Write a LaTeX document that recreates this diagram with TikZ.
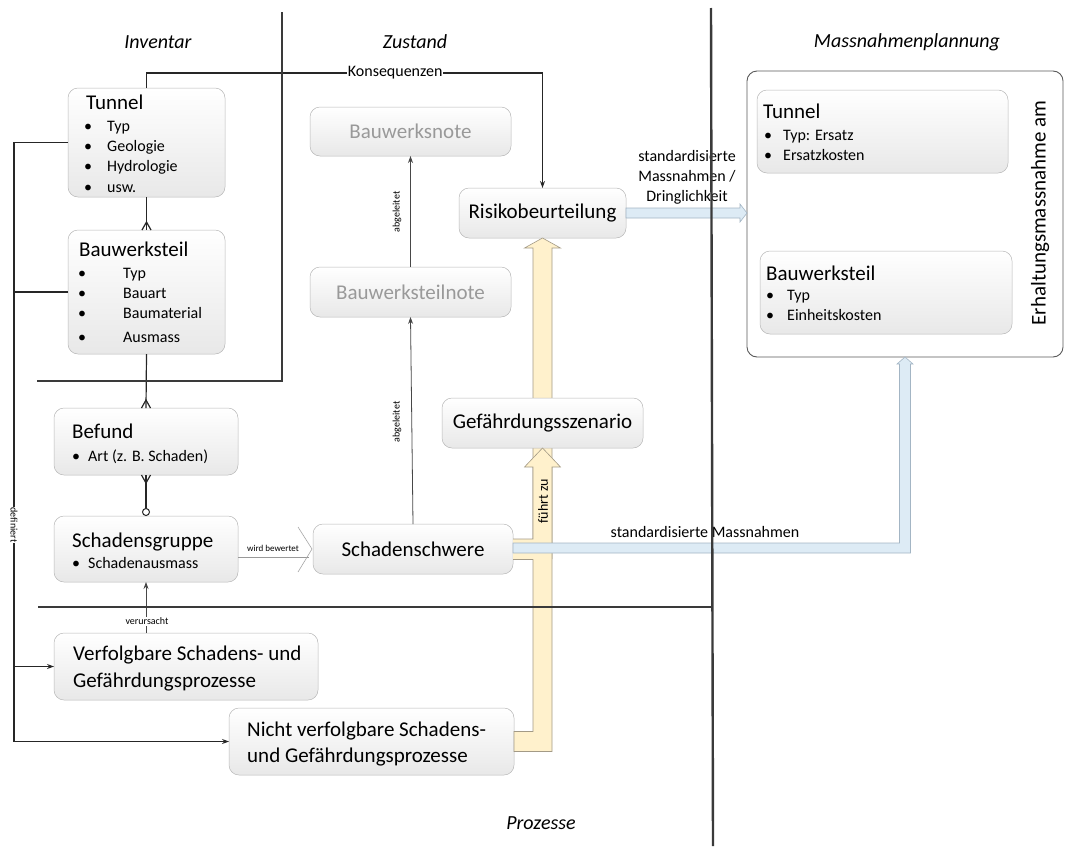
\documentclass[tikz,border=0pt]{standalone}
\usepackage{fontspec}
\setmainfont{Carlito}
\usetikzlibrary{calc,arrows.meta}
\definecolor{divc}{HTML}{3A3A3A}
\definecolor{conc}{HTML}{262626}
\definecolor{yelf}{HTML}{FFF1CC}
\definecolor{yeld}{HTML}{A39A86}
\definecolor{bluf}{HTML}{DDEBF5}
\definecolor{blud}{HTML}{A3B5C4}
\newcommand\szA{\fontsize{21}{26}\selectfont}
\newcommand\szB{\fontsize{16}{20}\selectfont}
\newcommand\szC{\fontsize{10}{12}\selectfont}
\newcommand\szH{\fontsize{20}{24}\selectfont\itshape}
\begin{document}
\begin{tikzpicture}[x=1pt,y=-1pt,
  box/.style 2 args={draw=black!28, line width=0.5pt, rounded corners=10pt,
    top color=white, bottom color=black!9, minimum width=#1pt, minimum height=#2pt,
    anchor=north west, inner sep=0pt, outer sep=0pt},
  bigbox/.style={draw=black!65, line width=0.9pt, rounded corners=10pt, fill=white,
    minimum width=316pt, minimum height=286pt, anchor=north west, inner sep=0pt, outer sep=0pt},
  tx/.style={inner sep=0pt, anchor=base west},
  bl/.style={inner sep=0pt, anchor=base},
  hd/.style={inner sep=0pt, font=\szH},
  lbl/.style={inner sep=1pt, font=\szC},
  con/.style={draw=conc, line width=1.2pt},
  thincon/.style={draw=conc!85, line width=0.8pt},
  tip/.style={-{Stealth[length=7pt,width=5pt]}},
  div/.style={draw=divc, line width=2.4pt},
  yel/.style={fill=yelf, draw=yeld, line width=0.6pt},
  blu/.style={fill=bluf, draw=blud, line width=0.6pt},
]
\useasboundingbox (0,0) rectangle (1065,846);

% headers
\node[hd] (hInv) at (158,42) {Inventar};
\node[hd] (hZus) at (415,42) {Zustand};
\node[hd] (hMas) at (907,42) {Massnahmenplannung};
\node[hd] (hPro) at (541,823) {Prozesse};

% boxes
\node[box={157}{109}] (tunnelL) at (68,88) {};
\node[box={157}{124}] (bwtL) at (68,230) {};
\node[box={184}{67}] (befund) at (54,408) {};
\node[box={184}{66}] (sgruppe) at (54,516) {};
\node[box={264}{67}] (verf) at (54,633) {};
\node[box={285}{67}] (nicht) at (229,708) {};
\node[box={201}{49}] (bnote) at (310,107) {\szA\color{black!40}Bauwerksnote};
\node[box={201}{50}] (btnote) at (310,267) {\szA\color{black!40}Bauwerksteilnote};
\node[box={200}{50}] (sschwere) at (313,524) {\szA Schadenschwere};
\node[box={167}{50}] (risiko) at (459,188) {\szA Risikobeurteilung};
\node[bigbox] (big) at (747,71) {};
\node[box={251}{83}] (tunnelR) at (757,90) {};
\node[box={252}{83}] (bwtR) at (760,251) {};
\node[rotate=90, inner sep=0pt] (erh) at (1040,213) {\szA Erhaltungsmassnahme am};

% texts in left boxes
\node[tx] (tLt) at (86,109) {\szA Tunnel};
\node[bl] (tLb1) at (88,131) {\szB\textbullet}; \node[tx] (tL1) at (107,131) {\szB Typ};
\node[bl] (tLb2) at (88,151) {\szB\textbullet}; \node[tx] (tL2) at (107,151) {\szB Geologie};
\node[bl] (tLb3) at (88,171) {\szB\textbullet}; \node[tx] (tL3) at (107,171) {\szB Hydrologie};
\node[bl] (tLb4) at (88,192) {\szB\textbullet}; \node[tx] (tL4) at (107,192) {\szB usw.};

\node[tx] (bLt) at (79,256) {\szA Bauwerksteil};
\node[bl] (bLb1) at (82,278) {\szB\textbullet}; \node[tx] (bL1) at (123,278) {\szB Typ};
\node[bl] (bLb2) at (82,298) {\szB\textbullet}; \node[tx] (bL2) at (123,298) {\szB Bauart};
\node[bl] (bLb3) at (82,318) {\szB\textbullet}; \node[tx] (bL3) at (123,318) {\szB Baumaterial};
\node[bl] (bLb4) at (82,342) {\szB\textbullet}; \node[tx] (bL4) at (123,342) {\szB Ausmass};

\node[tx] (bft) at (72,438) {\szA Befund};
\node[bl] (bfb1) at (76,461) {\szB\textbullet}; \node[tx] (bf1) at (88,461) {\szB Art (z. B. Schaden)};

\node[tx] (sgt) at (72,547) {\szA Schadensgruppe};
\node[bl] (sgb1) at (76,568) {\szB\textbullet}; \node[tx] (sg1) at (88,568) {\szB Schadenausmass};

\node[tx] (vf1) at (73,660) {\szA Verfolgbare Schadens- und};
\node[tx] (vf2) at (73,687) {\szA Gefährdungsprozesse};
\node[tx] (nv1) at (247,736) {\szA Nicht verfolgbare Schadens-};
\node[tx] (nv2) at (247,762) {\szA und Gefährdungsprozesse};

% texts in right boxes
\node[tx] (tRt) at (763,118) {\szA Tunnel};
\node[bl] (tRb1) at (768,140) {\szB\textbullet}; \node[tx] (tR1) at (783,140) {\szB Typ: Ersatz};
\node[bl] (tRb2) at (768,160) {\szB\textbullet}; \node[tx] (tR2) at (783,160) {\szB Ersatzkosten};
\node[tx] (bRt) at (766,280) {\szA Bauwerksteil};
\node[bl] (bRb1) at (770,300) {\szB\textbullet}; \node[tx] (bR1) at (787,300) {\szB Typ};
\node[bl] (bRb2) at (770,320) {\szB\textbullet}; \node[tx] (bR2) at (787,320) {\szB Einheitskosten};

% yellow arrow A: Nicht verfolgbare -> Risikobeurteilung
\path[yel] ($(nicht.east)+(0,-10)$) -- ($(risiko.south |- nicht.east)+(-9.5,-10)$)
  -- ($(risiko.south)+(-9.5,10)$) -- ($(risiko.south)+(-18,10)$) -- (risiko.south)
  -- ($(risiko.south)+(18,10)$) -- ($(risiko.south)+(9.5,10)$)
  -- ($(risiko.south |- nicht.east)+(9.5,10)$) -- ($(nicht.east)+(0,10)$) -- cycle;

\node[box={201}{50}] (gefahr) at (442,398) {\szA Gefährdungsszenario};

% yellow arrow B: Schadenschwere -> Gefaehrdungsszenario
\path[fill=yelf] ($(sschwere.east)+(0,-10)$) -- ($(gefahr.south |- sschwere.east)+(-9.5,-10)$)
  -- ($(gefahr.south)+(-9.5,19)$) -- ($(gefahr.south)+(-18,19)$) -- (gefahr.south)
  -- ($(gefahr.south)+(18,19)$) -- ($(gefahr.south)+(9.5,19)$)
  -- ($(gefahr.south |- sschwere.east)+(9.5,10)$) -- ($(sschwere.east)+(0,10)$) -- cycle;
\draw[draw=yeld, line width=0.6pt] ($(gefahr.south |- sschwere.east)+(9.5,10)$)
  -- ($(gefahr.south)+(9.5,19)$) -- ($(gefahr.south)+(18,19)$) -- (gefahr.south)
  -- ($(gefahr.south)+(-18,19)$) -- ($(gefahr.south)+(-9.5,19)$)
  -- ($(gefahr.south |- sschwere.east)+(-9.5,-10)$) -- ($(sschwere.east)+(0,-10)$);
\draw[draw=yeld, line width=0.6pt] ($(sschwere.east)+(0,10)$) -- ($(gefahr.south |- sschwere.east)+(-9.5,10)$);
\node[rotate=90, inner sep=0pt] (fz) at (543,501) {\fontsize{14}{16}\selectfont führt zu};

% blue arrows
\path[blu] ($(risiko.east)+(0,-5)$) -- ($(big.west |- risiko.east)+(-7,-5)$)
  -- ($(big.west |- risiko.east)+(-7,-9)$) -- (big.west |- risiko.east)
  -- ($(big.west |- risiko.east)+(-7,9)$) -- ($(big.west |- risiko.east)+(-7,5)$)
  -- ($(risiko.east)+(0,5)$) -- cycle;
\path[blu] ($(sschwere.east)+(0,-6)$) -- ($(big.south |- sschwere.east)+(-5.5,-6)$)
  -- ($(big.south)+(-5.5,7)$) -- ($(big.south)+(-8,7)$) -- (big.south)
  -- ($(big.south)+(8,7)$) -- ($(big.south)+(5.5,7)$)
  -- ($(big.south |- sschwere.east)+(5.5,4)$) -- ($(sschwere.east)+(0,4)$) -- cycle;
\node[align=center, inner sep=0pt, font=\szB] (lstd1) at (687,177) {standardisierte\\Massnahmen /\\Dringlichkeit};
\node[inner sep=0pt, font=\szB] (lstd2) at (705,532) {standardisierte Massnahmen};

% ER connectors
\draw[con] (tunnelL.south) -- (bwtL.north);
\draw[con] ($(bwtL.north)+(-4.5,0)$) -- ($(bwtL.north)+(0,-8)$) -- ($(bwtL.north)+(4.5,0)$);
\draw[con] (bwtL.south) -- (befund.north);
\draw[con] ($(befund.north)+(-4.5,0)$) -- ($(befund.north)+(0,-8)$) -- ($(befund.north)+(4.5,0)$);
\draw[con] (befund.south) -- (sgruppe.north);
\draw[con] ($(befund.south)+(-4.5,0)$) -- ($(befund.south)+(0,8)$) -- ($(befund.south)+(4.5,0)$);
\draw[con, fill=white, line width=1pt] ($(sgruppe.north)+(0,-4)$) circle (3.5);

% Konsequenzen
\draw[con, tip] (tunnelL.north) |- node[pos=0.814, lbl, fill=white, font=\szB, inner sep=0.5pt] (kons) {Konsequenzen}
  ($(risiko.north)+(0,-115)$) -- (risiko.north);

% abgeleitet
\draw[thincon, tip] (sschwere.north) -- (btnote.south);
\draw[thincon, tip] (btnote.north) -- (bnote.south);
\node[lbl, rotate=90] (abg1) at (397,422) {abgeleitet};
\node[lbl, rotate=90] (abg2) at (397,212) {abgeleitet};

% verursacht
\draw[thincon, tip] (sgruppe.south |- verf.north) -- (sgruppe.south);
\node[lbl, fill=white] (veru) at (147,621) {verursacht};

% wird bewertet
\draw[draw=black!40, line width=0.6pt] ($(sgruppe.east)+(0,8)$) -- ($(sschwere.west)+(-4,8)$);
\draw[draw=black!35, line width=0.6pt] ($(sschwere.west)+(-15,-22)$) -- ($(sschwere.west)+(-1,0)$) -- ($(sschwere.west)+(-15,23)$);
\node[lbl, font=\fontsize{9}{11}\selectfont] (wb) at (273,548) {wird bewertet};

% definiert
\coordinate (dl) at (14,0);
\draw[con, tip] (tunnelL.west) -| (dl |- nicht.west) -- (nicht.west);
\draw[con] (bwtL.west) -- (bwtL.west -| dl);
\draw[con, tip] (dl |- verf.west) -- (verf.west);
\node[lbl, rotate=-90, fill=white, inner sep=0.5pt] (def) at (14,525) {definiert};

% dividers
\draw[div] (37,381) -- (282,381) -- (282,12);
\draw[div] (38,607) -- (713,607);
\draw[div] (711,8) -- (713,846);
\end{tikzpicture}
\end{document}
